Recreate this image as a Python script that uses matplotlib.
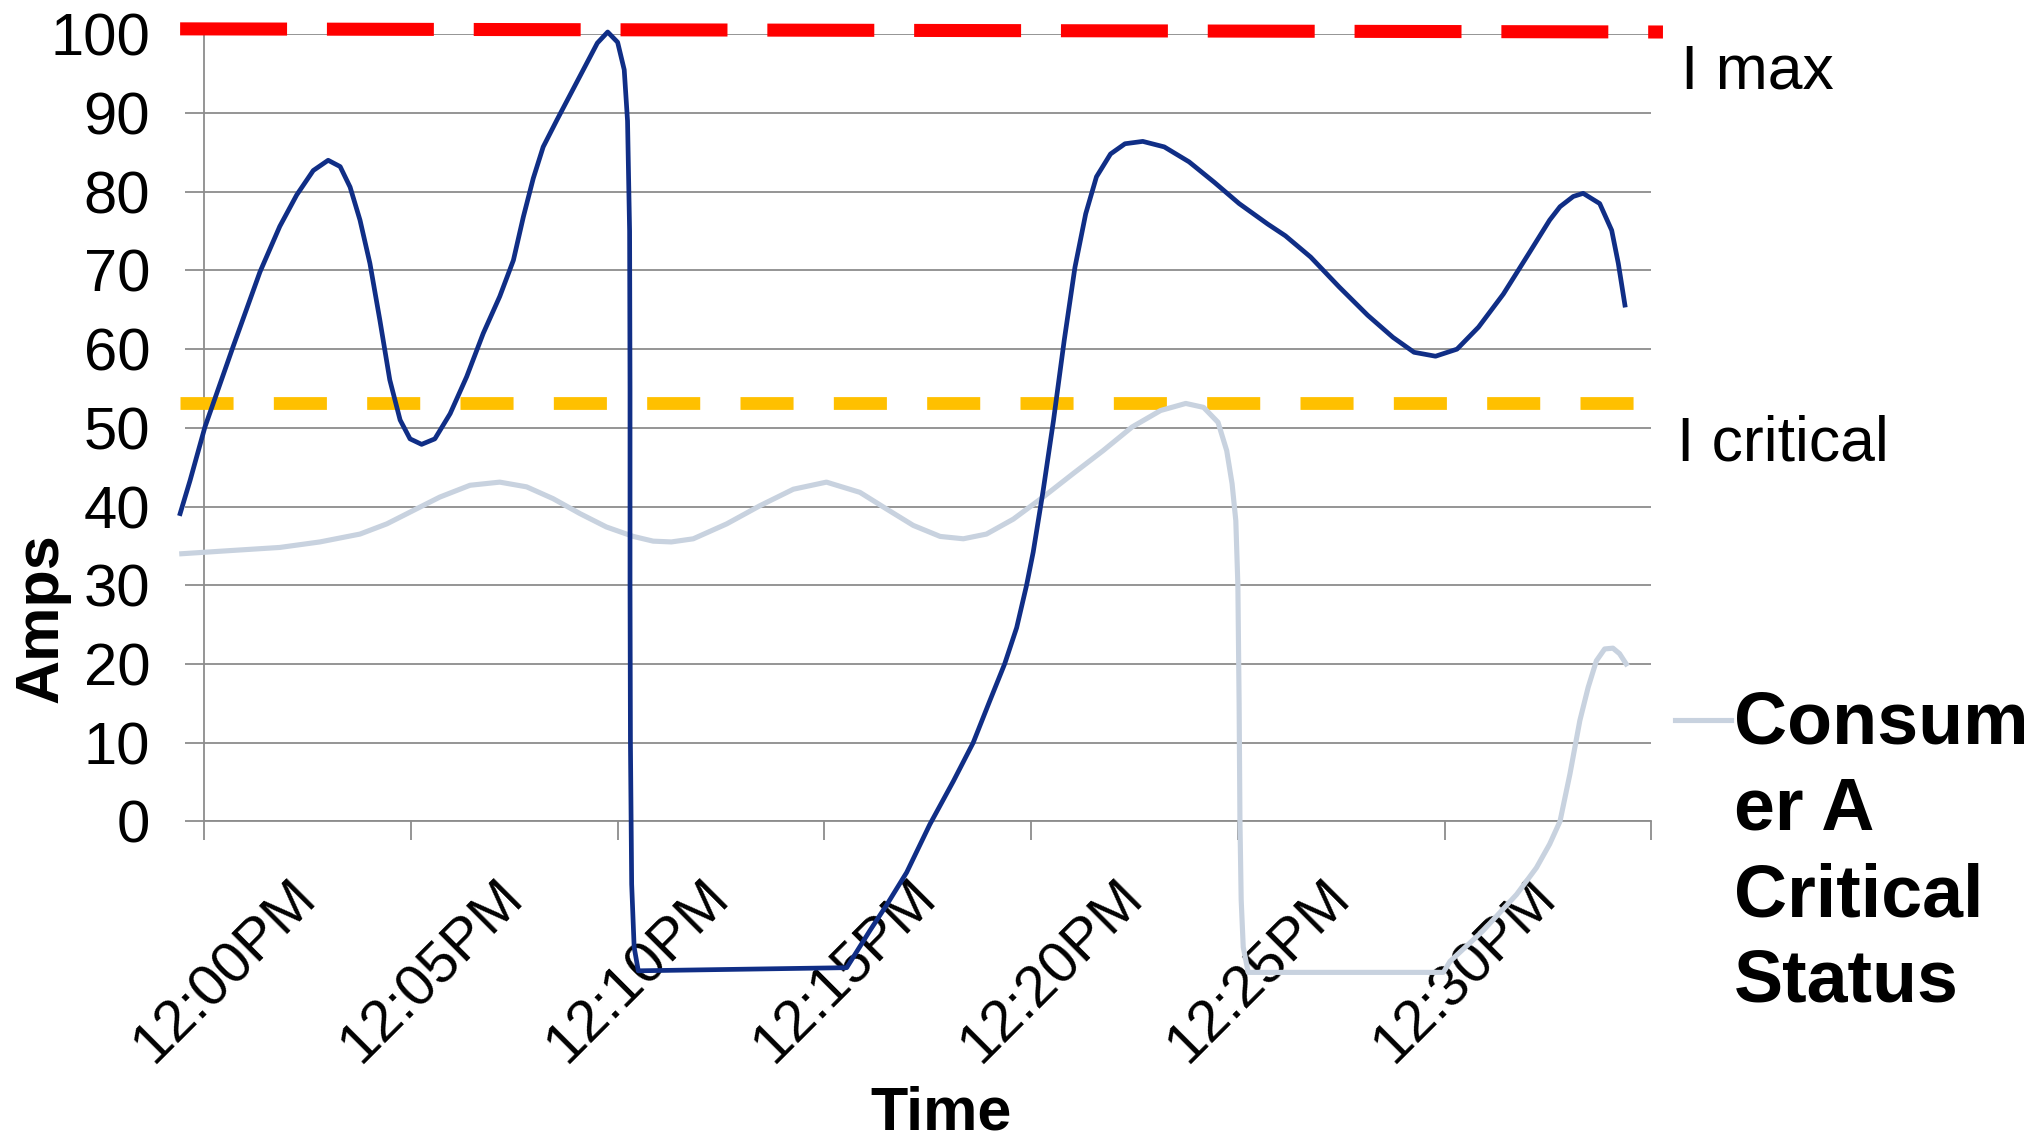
import matplotlib
matplotlib.use("Agg")
import matplotlib.pyplot as plt
from matplotlib.lines import Line2D

plt.rcParams['font.family'] = ['Liberation Sans', 'DejaVu Sans']
plt.rcParams['lines.scale_dashes'] = False

# minutes after 12:00PM and amps
main_t = [-3.08, -2.84, -2.48, -1.80, -1.15, -0.67, -0.26, 0.14, 0.50, 0.79,
          1.03, 1.27, 1.51, 1.75, 1.99, 2.24, 2.48, 2.76, 3.08, 3.45,
          3.85, 4.25, 4.65, 4.98, 5.22, 5.46, 5.70, 6.03, 6.62, 7.01,
          7.26, 7.50, 7.66, 7.74, 7.79, 7.80, 7.80, 7.81, 7.84, 7.90,
          8.00, 10.50, 13.04, 13.60, 14.01, 14.49, 15.05, 15.62, 16.10, 16.50,
          16.86, 17.15, 17.39, 17.55, 17.79, 18.04, 18.30, 18.56, 18.82, 19.08,
          19.42, 19.77, 20.20, 20.72, 21.32, 21.93, 22.53, 23.22, 23.65, 24.26,
          24.95, 25.64, 26.25, 26.76, 27.28, 27.80, 28.32, 28.92, 29.53, 30.04,
          30.29, 30.61, 30.85, 31.25, 31.54, 31.70, 31.86]
main_a = [39.1, 43.3, 50.1, 60.3, 69.8, 75.6, 79.6, 82.7, 84.0, 83.2,
          80.6, 76.4, 70.9, 63.7, 56.1, 51.0, 48.6, 47.9, 48.6, 51.8,
          56.5, 62.0, 66.7, 71.3, 76.8, 81.7, 85.7, 89.1, 95.0, 98.9,
          100.3, 99.0, 95.5, 89.0, 75.0, 55.0, 30.0, 10.0, -8.0, -16.0,
          -19.0, -18.8, -18.6, -13.9, -10.6, -6.5, -0.4, 5.1, 10.0, 15.3,
          20.0, 24.6, 30.0, 34.2, 42.0, 50.9, 61.1, 70.4, 77.2, 81.9,
          84.8, 86.1, 86.4, 85.7, 83.8, 81.2, 78.5, 75.9, 74.4, 71.7,
          67.9, 64.3, 61.5, 59.6, 59.1, 60.0, 62.8, 67.0, 72.1, 76.4,
          78.1, 79.4, 79.8, 78.5, 75.1, 70.9, 65.6]

crit_t = [-3.04, -1.87, -0.67, 0.30, 1.27, 1.92, 2.56, 3.20, 3.93, 4.65,
          5.30, 5.94, 6.59, 7.23, 7.88, 8.36, 8.80, 9.33, 10.14, 10.94,
          11.75, 12.55, 13.36, 14.00, 14.65, 15.30, 15.86, 16.42, 17.07, 17.79,
          18.52, 19.24, 19.94, 20.63, 21.24, 21.67, 22.02, 22.23, 22.36, 22.45,
          22.50, 22.53, 22.55, 22.58, 22.63, 22.75, 27.47, 27.63, 28.43, 29.24,
          29.72, 30.04, 30.29, 30.53, 30.77, 30.97, 31.17, 31.37, 31.57, 31.73,
          31.89]
crit_a = [34.0, 34.4, 34.8, 35.5, 36.5, 37.8, 39.5, 41.2, 42.7, 43.1,
          42.5, 41.0, 39.1, 37.4, 36.2, 35.6, 35.5, 35.9, 37.8, 40.1,
          42.2, 43.1, 41.8, 39.7, 37.6, 36.2, 35.9, 36.5, 38.4, 41.2,
          44.2, 47.1, 50.1, 52.2, 53.1, 52.6, 50.7, 47.1, 42.9, 38.2,
          30.0, 15.0, 0.0, -10.0, -16.0, -19.2, -19.2, -17.8, -13.9, -9.3,
          -5.9, -2.9, 0.0, 6.0, 12.8, 17.0, 20.4, 21.9, 22.0, 21.3,
          20.0]

imax_t = [-3.08, 32.78]
imax_a = [100.7, 100.3]
icrit_t = [-3.08, 32.09]
icrit_a = [53.15, 53.15]

label_pos = [0, 5, 10, 15, 20, 25, 30]
time_labels = ["12:00PM", "12:05PM", "12:10PM", "12:15PM",
               "12:20PM", "12:25PM", "12:30PM"]
tick_pos = [-2.5, 2.5, 7.5, 12.5, 17.5, 22.5, 27.5, 32.5]
y_ticks = [0, 10, 20, 30, 40, 50, 60, 70, 80, 90, 100]

navy = '#102E86'
pale = '#C8D2DF'
grey = '#8C8C8C'

fig = plt.figure(figsize=(20.39, 11.38), dpi=100)
ax = fig.add_axes([0.1001, 0.2783, 0.7098, 0.6915])

ax.plot(icrit_t, icrit_a, color='#FFC000', lw=9.2, dashes=(38.2, 29.0),
        dash_capstyle='butt', clip_on=False, zorder=3)
ax.plot(imax_t, imax_a, color='#FF0000', lw=9.4, dashes=(77.0, 28.7),
        dash_capstyle='butt', clip_on=False, zorder=3)
ax.plot(crit_t, crit_a, color=pale, lw=3.7, solid_joinstyle='round',
        clip_on=False, zorder=4)
ax.plot(main_t, main_a, color=navy, lw=3.4, solid_joinstyle='round',
        clip_on=False, zorder=5)

ax.set_xlim(-2.5, 32.5)
ax.set_ylim(0, 100)
ax.set_yticks(y_ticks)
ax.yaxis.grid(True, color=grey, lw=1.3)
ax.set_axisbelow(True)
for s in ['top', 'right']:
    ax.spines[s].set_visible(False)
for s in ['left', 'bottom']:
    ax.spines[s].set_color(grey)
    ax.spines[s].set_linewidth(1.3)

ax.tick_params(axis='y', length=13.8, width=1.3, color=grey, pad=25,
               labelsize=43)
ax.set_xticks(tick_pos)
ax.set_xticklabels([])
ax.tick_params(axis='x', which='major', length=13.8, width=1.3, color=grey)
ax.set_xticks(label_pos, time_labels, minor=True)
ax.tick_params(axis='x', which='minor', length=0, pad=48.7, labelsize=42)
for lbl in ax.get_xticklabels(minor=True):
    lbl.set_rotation(45)
    lbl.set_ha('right')
    lbl.set_va('center')
    lbl.set_rotation_mode('anchor')

fig.text(0.0205, 0.4572, 'Amps', rotation=90, ha='center', va='center',
         fontsize=44, weight='bold')
fig.text(0.4616, 0.0079, 'Time', ha='center', va='baseline',
         fontsize=44, weight='bold')

fig.text(0.8243, 0.9223, 'I max', ha='left', va='baseline', fontsize=45)
fig.text(0.8227, 0.5955, 'I critical', ha='left', va='baseline', fontsize=45)

# legend entry for the pale series
fig.add_artist(Line2D([0.8215, 0.849], [0.367, 0.367], color=pale, lw=3.7,
                      transform=fig.transFigure))
for txt, yb in zip(['Consum', 'er A', 'Critical', 'Status'],
                   [0.3466, 0.2712, 0.1946, 0.1192]):
    fig.text(0.8504, yb, txt, ha='left', va='baseline', fontsize=53,
             weight='bold')

fig.savefig('out.png', dpi=100)
